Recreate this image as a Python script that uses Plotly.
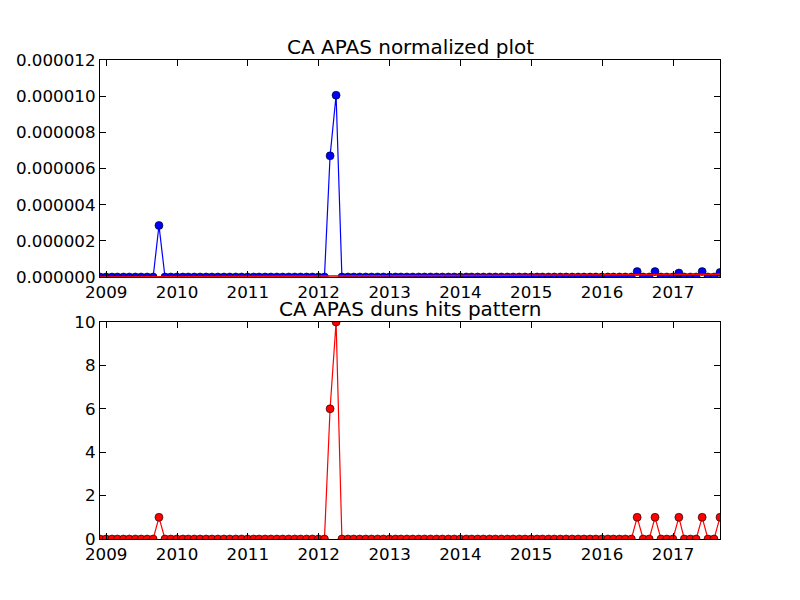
import pandas as pd
import plotly.graph_objects as go

# Monthly (month-end) dates: 2008-11 .. 2017-08
dates = pd.date_range("2008-11-30", "2017-08-31", freq="ME")

hits = [
    0, 0,                                   # 2008 Nov-Dec
    0, 0, 0, 0, 0, 0, 0, 0, 1, 0, 0, 0,     # 2009
    0, 0, 0, 0, 0, 0, 0, 0, 0, 0, 0, 0,     # 2010
    0, 0, 0, 0, 0, 0, 0, 0, 0, 0, 0, 0,     # 2011
    0, 6, 10, 0, 0, 0, 0, 0, 0, 0, 0, 0,    # 2012
    0, 0, 0, 0, 0, 0, 0, 0, 0, 0, 0, 0,     # 2013
    0, 0, 0, 0, 0, 0, 0, 0, 0, 0, 0, 0,     # 2014
    0, 0, 0, 0, 0, 0, 0, 0, 0, 0, 0, 0,     # 2015
    0, 0, 0, 0, 0, 1, 0, 0, 1, 0, 0, 0,     # 2016
    1, 0, 0, 0, 1, 0, 0, 1,                 # 2017 Jan-Aug
]

normalized = [
    0, 0,
    0, 0, 0, 0, 0, 0, 0, 0, 2.85e-6, 0, 0, 0,
    0, 0, 0, 0, 0, 0, 0, 0, 0, 0, 0, 0,
    0, 0, 0, 0, 0, 0, 0, 0, 0, 0, 0, 0,
    0, 6.7e-6, 1.005e-5, 0, 0, 0, 0, 0, 0, 0, 0, 0,
    0, 0, 0, 0, 0, 0, 0, 0, 0, 0, 0, 0,
    0, 0, 0, 0, 0, 0, 0, 0, 0, 0, 0, 0,
    0, 0, 0, 0, 0, 0, 0, 0, 0, 0, 0, 0,
    0, 0, 0, 0, 0, 3.0e-7, 0, 0, 3.0e-7, 0, 0, 0,
    2.2e-7, 0, 0, 0, 3.0e-7, 0, 0, 2.5e-7,
]

trend_x = ["2008-11-30", "2017-08-31"]
trend_y = [0.0, 1.5e-7]

titles = ["CA APAS normalized plot", "CA APAS duns hits pattern"]

FONT = "DejaVu Sans"

fig = go.Figure()
fig.add_trace(go.Scatter(
    x=dates, y=normalized, mode="lines+markers",
    line=dict(color="#0000ff", width=1.2),
    marker=dict(color="#0000ff", size=8, line=dict(color="black", width=0.6)),
    xaxis="x", yaxis="y", showlegend=False,
))
fig.add_trace(go.Scatter(
    x=trend_x, y=trend_y, mode="lines",
    line=dict(color="#ff0000", width=1.6),
    xaxis="x", yaxis="y", showlegend=False,
))
fig.add_trace(go.Scatter(
    x=dates, y=hits, mode="lines+markers",
    line=dict(color="#ff0000", width=1.2),
    marker=dict(color="#ff0000", size=8, line=dict(color="black", width=0.6)),
    xaxis="x2", yaxis="y2", showlegend=False,
))

xcommon = dict(
    type="date", range=[dates[0], dates[-1]],
    tick0="2009-01-01", dtick="M12", tickformat="%Y",
    ticks="inside", ticklen=6, tickwidth=0.8, tickcolor="black",
    showline=True, linecolor="black", linewidth=1.2, mirror="ticks",
    showgrid=False, zeroline=False, automargin=False,
    tickfont=dict(family=FONT, size=16.7, color="black"),
)
ycommon = dict(
    ticks="inside", ticklen=6, tickwidth=0.8, tickcolor="black",
    showline=True, linecolor="black", linewidth=1.2, mirror="ticks",
    showgrid=False, zeroline=False, automargin=False,
    tickfont=dict(family=FONT, size=16.7, color="black"),
)

# plot area: x 100..720, y 60..539 (page offset compensated)
top_dom = [(539 - 277) / 479, 1.0]
bot_dom = [0.0, (539 - 322) / 479]

fig.update_layout(
    width=800, height=600,
    margin=dict(l=92, r=88, t=52, b=69),
    paper_bgcolor="white", plot_bgcolor="white",
    hovermode=False,
    xaxis=dict(**xcommon, domain=[0, 1], anchor="y"),
    yaxis=dict(**ycommon, domain=top_dom, anchor="x", range=[0, 1.2e-5],
               tick0=0, dtick=2e-6, tickformat=".6f"),
    xaxis2=dict(**xcommon, domain=[0, 1], anchor="y2"),
    yaxis2=dict(**ycommon, domain=bot_dom, anchor="x2", range=[0, 10],
                tick0=0, dtick=2),
    annotations=[
        dict(text=titles[0], x=0.5, y=top_dom[1], xref="paper", yref="paper",
             xanchor="center", yanchor="bottom", showarrow=False, yshift=-1,
             font=dict(family=FONT, size=20, color="black")),
        dict(text=titles[1], x=0.5, y=bot_dom[1], xref="paper", yref="paper",
             xanchor="center", yanchor="bottom", showarrow=False, yshift=-1,
             font=dict(family=FONT, size=20, color="black")),
    ],
)

fig.write_html("out.html")
